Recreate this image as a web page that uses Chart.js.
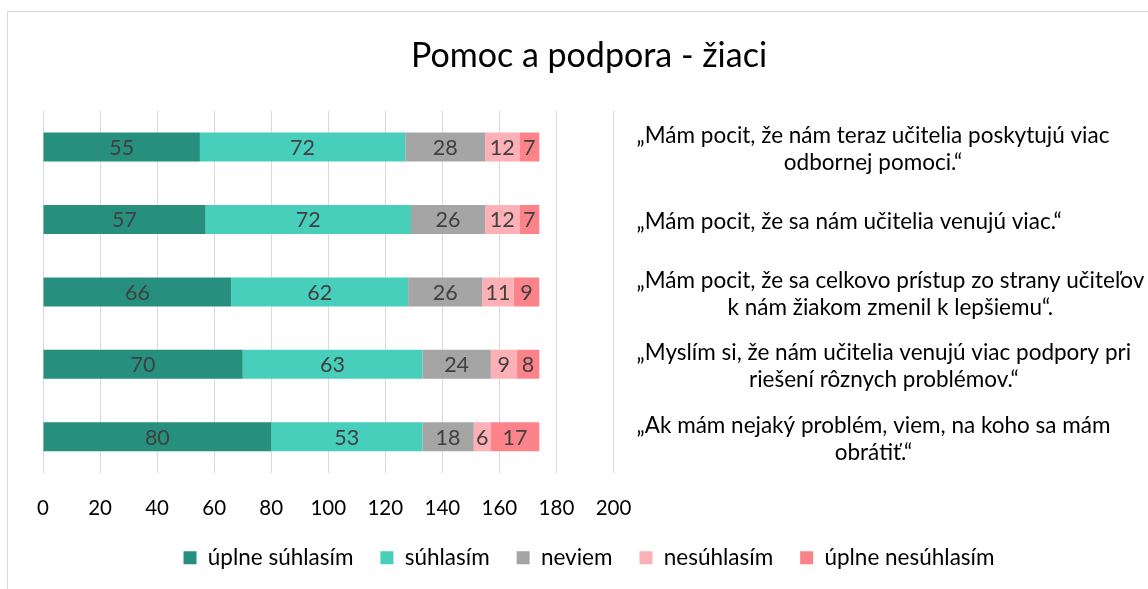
<!DOCTYPE html>
<html>
<head>
<meta charset="utf-8">
<script src="https://cdn.jsdelivr.net/npm/chart.js@4/dist/chart.umd.min.js"></script>
<style>
  html, body { margin: 0; padding: 0; background: #fff; overflow: hidden; }
  #frame { position: absolute; left: 7px; top: 11px; width: 1200px; height: 700px; border: 1px solid #d9d9d9; box-sizing: border-box; }
  #wrap { position: absolute; left: 0; top: 0; width: 1148px; height: 589px; }
</style>
</head>
<body>
<div id="frame"></div>
<div id="wrap"><canvas id="c"></canvas></div>
<script>
const categories = [
  ['„Mám pocit, že nám teraz učitelia poskytujú viac', 'odbornej pomoci.“'],
  ['„Mám pocit, že sa nám učitelia venujú viac.“'],
  ['„Mám pocit, že sa celkovo prístup zo strany učiteľov', 'k nám žiakom zmenil k lepšiemu“.'],
  ['„Myslím si, že nám učitelia venujú viac podpory pri', 'riešení rôznych problémov.“'],
  ['„Ak mám nejaký problém, viem, na koho sa mám', 'obrátiť.“']
];
const seriesNames = ['úplne súhlasím', 'súhlasím', 'neviem', 'nesúhlasím', 'úplne nesúhlasím'];
const uplneSuhlasim = [55, 57, 66, 70, 80];
const suhlasim = [72, 72, 62, 63, 53];
const neviem = [28, 26, 26, 24, 18];
const nesuhlasim = [12, 12, 11, 9, 6];
const uplneNesuhlasim = [7, 7, 9, 8, 17];
const xTicks = [0, 20, 40, 60, 80, 100, 120, 140, 160, 180, 200];
const colors = ['#268F7E', '#47CFBC', '#A5A5A5', '#FDB0B5', '#FC838A'];

const FONT = 'Lato, "Open Sans", sans-serif';
const seriesValues = [uplneSuhlasim, suhlasim, neviem, nesuhlasim, uplneNesuhlasim];

const labelPlugin = {
  id: 'barLabels',
  afterDatasetsDraw(chart) {
    const ctx = chart.ctx;
    ctx.save();
    ctx.font = '21.5px ' + FONT;
    ctx.fillStyle = '#404040';
    ctx.textAlign = 'center';
    ctx.textBaseline = 'middle';
    chart.data.datasets.forEach((ds, i) => {
      const meta = chart.getDatasetMeta(i);
      meta.data.forEach((el, j) => {
        const cx = (el.x + el.base) / 2;
        ctx.fillText(String(ds.data[j]), cx, el.y + 1);
      });
    });
    ctx.restore();
  }
};

// category labels on the right: each block left-aligned, its lines centred within the block
const catLabelPlugin = {
  id: 'catLabels',
  afterDraw(chart) {
    const ctx = chart.ctx;
    const ys = chart.scales.y;
    const lh = 27;
    ctx.save();
    ctx.font = '22.5px ' + FONT;
    ctx.fillStyle = '#000';
    ctx.textAlign = 'center';
    ctx.textBaseline = 'middle';
    chart.data.labels.forEach((lines, i) => {
      const yc = ys.getPixelForValue(i) + 2;
      const w = Math.max(...lines.map(l => ctx.measureText(l).width));
      const cx = ys.left + 23 + w / 2;
      const y0 = yc - (lines.length - 1) * lh / 2;
      lines.forEach((l, k) => ctx.fillText(l, cx, y0 + k * lh));
    });
    ctx.restore();
  }
};

new Chart(document.getElementById('c'), {
  type: 'bar',
  data: {
    labels: categories,
    datasets: seriesNames.map((n, i) => ({
      label: n,
      data: seriesValues[i],
      backgroundColor: colors[i],
      borderWidth: 0,
      barPercentage: 0.4,
      categoryPercentage: 1.0
    }))
  },
  options: {
    indexAxis: 'y',
    responsive: true,
    maintainAspectRatio: false,
    animation: false,
    layout: { padding: { left: 43, right: 13, top: 0, bottom: 10 } },
    plugins: {
      title: {
        display: true,
        text: 'Pomoc a podpora - žiaci',
        color: '#000',
        font: { family: FONT, size: 34, weight: 'normal' },
        padding: { top: 36, bottom: 34 }
      },
      legend: {
        position: 'bottom',
        labels: {
          color: '#000',
          font: { family: FONT, size: 22.5 },
          boxWidth: 13,
          boxHeight: 13,
          padding: 27
        }
      },
      tooltip: { enabled: false }
    },
    scales: {
      x: {
        stacked: true,
        min: 0,
        max: 200,
        afterBuildTicks(axis) { axis.ticks = xTicks.map(v => ({ value: v })); },
        afterFit(scale) { scale.height = 46.5; },
        grid: { color: '#d9d9d9', lineWidth: 1, drawTicks: false },
        border: { display: false },
        ticks: { color: '#000', font: { family: FONT, size: 20.5 }, padding: 23.5 }
      },
      y: {
        stacked: true,
        position: 'right',
        grid: { display: false },
        border: { display: false },
        ticks: { display: false },
        afterFit(scale) { scale.width = 521.5; }
      }
    }
  },
  plugins: [labelPlugin, catLabelPlugin]
});
</script>
</body>
</html>
